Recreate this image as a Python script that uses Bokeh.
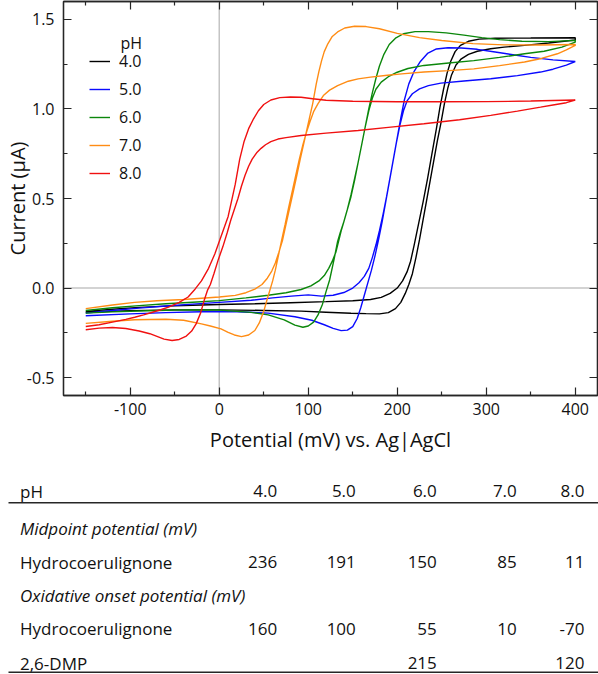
from bokeh.plotting import figure
from bokeh.models import (Range1d, LinearAxis, Span, Label, FixedTicker,
                          PrintfTickFormatter, CustomJSTickFormatter)
from bokeh.layouts import column
from bokeh.embed import file_html
from bokeh.resources import INLINE
from bokeh.core.properties import value

# ---------------- data ----------------
ph_levels = ["4.0", "5.0", "6.0", "7.0", "8.0"]
line_colors = ["#000000", "#0a0aff", "#0b870b", "#ff8c14", "#f01010"]

# each cyclic voltammogram: forward sweep (-150 -> 400 mV) then reverse (400 -> -150 mV)
ph4_potential = [-150, -120, -90, -60, -30, 0, 40, 80, 120, 150, 170, 182, 192, 200, 206, 211, 215, 219, 224, 229,
                 234, 239, 244, 248, 252, 256, 260, 265, 271, 280, 292, 310, 350, 400,
                 400, 370, 343, 320, 305, 290, 280, 272, 266, 261, 257, 253, 249, 245, 241, 237, 233, 229, 225, 221,
                 217, 213, 209, 204, 198, 190, 180, 165, 148, 120, 92, 50, 0, -50, -100, -150]
ph4_current = [-0.130, -0.118, -0.108, -0.101, -0.096, -0.092, -0.088, -0.082, -0.076, -0.071, -0.064, -0.052, -0.030,
               0.000, 0.040, 0.090, 0.150, 0.240, 0.360, 0.480, 0.610, 0.750, 0.890, 1.010, 1.110, 1.200, 1.265,
               1.320, 1.355, 1.378, 1.390, 1.395, 1.396, 1.398,
               1.385, 1.368, 1.355, 1.345, 1.336, 1.322, 1.305, 1.280, 1.245, 1.190, 1.120, 1.030, 0.920, 0.820,
               0.710, 0.600, 0.490, 0.380, 0.270, 0.170, 0.080, 0.020, -0.030, -0.080, -0.115, -0.137, -0.144,
               -0.143, -0.141, -0.135, -0.129, -0.125, -0.122, -0.122, -0.126, -0.135]

ph5_potential = [-150, -120, -90, -60, -30, 0, 36, 60, 81, 100, 115, 128, 140, 150, 157, 163, 168, 172, 176, 180,
                 184, 188, 192, 196, 200, 204, 208, 213, 219, 226, 234, 244, 257, 272, 290, 310, 330, 350, 375, 400,
                 400, 390, 375, 361, 335, 305, 275, 249, 235, 225, 217, 211, 207, 203, 199, 195, 191, 187, 183, 179,
                 175, 171, 167, 163, 159, 155, 150, 144, 137, 128, 118, 104, 85, 55, 20, -20, -60, -100, -150]
ph5_current = [-0.140, -0.125, -0.112, -0.100, -0.090, -0.080, -0.068, -0.055, -0.045, -0.038, -0.045, -0.040,
               -0.025, 0.000, 0.030, 0.065, 0.110, 0.170, 0.240, 0.320, 0.410, 0.510, 0.620, 0.730, 0.840, 0.950,
               1.050, 1.140, 1.210, 1.265, 1.310, 1.335, 1.342, 1.340, 1.333, 1.318, 1.303, 1.288, 1.274, 1.265,
               1.265, 1.245, 1.222, 1.206, 1.186, 1.169, 1.156, 1.144, 1.130, 1.112, 1.085, 1.045, 0.990, 0.910,
               0.810, 0.700, 0.590, 0.480, 0.370, 0.270, 0.180, 0.100, 0.030, -0.040, -0.110, -0.170, -0.215,
               -0.235, -0.238, -0.225, -0.205, -0.180, -0.160, -0.140, -0.132, -0.132, -0.137, -0.144, -0.155]

ph6_potential = [-150, -120, -90, -60, -30, 0, 30, 55, 75, 92, 103, 112, 118, 123, 127, 131, 134, 137, 140, 144,
                 148, 152, 156, 160, 164, 168, 172, 176, 180, 185, 191, 198, 207, 220, 235, 255, 275, 295, 315, 340,
                 370, 400,
                 400, 385, 365, 343, 315, 286, 255, 230, 212, 200, 190, 182, 176, 172, 168, 164, 160, 156, 152, 148,
                 144, 140, 136, 133, 129, 124, 120, 116, 111, 106, 100, 94, 85, 73, 55, 36, 0, -40, -80, -120, -150]
ph6_current = [-0.125, -0.110, -0.098, -0.088, -0.079, -0.070, -0.055, -0.040, -0.026, -0.008, 0.012, 0.040, 0.070,
               0.110, 0.150, 0.200, 0.260, 0.320, 0.370, 0.440, 0.510, 0.600, 0.700, 0.800, 0.900, 1.000, 1.090,
               1.170, 1.240, 1.305, 1.360, 1.395, 1.420, 1.432, 1.432, 1.425, 1.412, 1.398, 1.387, 1.378, 1.376,
               1.383,
               1.373, 1.345, 1.322, 1.308, 1.288, 1.270, 1.255, 1.243, 1.226, 1.205, 1.180, 1.150, 1.110, 1.060,
               0.990, 0.900, 0.800, 0.700, 0.610, 0.520, 0.440, 0.370, 0.310, 0.260, 0.160, 0.045, -0.020, -0.090,
               -0.150, -0.190, -0.212, -0.219, -0.207, -0.178, -0.150, -0.136, -0.123, -0.122, -0.127, -0.133,
               -0.140]

ph7_potential = [-150, -120, -95, -70, -40, -20, 0, 18, 30, 40, 48, 54, 59, 63, 67, 71, 75, 79, 83, 87, 91, 96,
                 100, 105, 109, 112, 115, 118, 122, 127, 133, 141, 152, 165, 180, 200, 225, 250, 285, 320, 360, 400,
                 400, 390, 380, 362, 343, 315, 286, 258, 230, 205, 189, 170, 156, 145, 133, 124, 117, 111, 106, 102,
                 98, 94, 90, 86, 82, 78, 74, 70, 66, 63, 60, 57, 54, 50, 45, 40, 33, 25, 17, 10, 2, -10, -20, -40,
                 -60, -95, -120, -150]
ph7_current = [-0.115, -0.095, -0.080, -0.071, -0.064, -0.057, -0.050, -0.041, -0.026, -0.006, 0.020, 0.055, 0.095,
               0.140, 0.200, 0.265, 0.355, 0.445, 0.535, 0.625, 0.720, 0.830, 0.920, 1.030, 1.140, 1.210, 1.270,
               1.320, 1.364, 1.405, 1.430, 1.452, 1.462, 1.460, 1.448, 1.422, 1.398, 1.382, 1.365, 1.358, 1.357,
               1.360,
               1.355, 1.330, 1.308, 1.282, 1.262, 1.242, 1.224, 1.214, 1.206, 1.196, 1.188, 1.178, 1.168, 1.155,
               1.130, 1.105, 1.075, 1.030, 0.985, 0.930, 0.870, 0.800, 0.720, 0.630, 0.540, 0.450, 0.355, 0.265,
               0.170, 0.100, 0.040, -0.010, -0.060, -0.130, -0.195, -0.237, -0.262, -0.271, -0.262, -0.248, -0.228,
               -0.212, -0.200, -0.180, -0.174, -0.177, -0.185, -0.197]

ph8_potential = [-150, -135, -120, -105, -95, -85, -75, -65, -57, -45, -35, -27, -20, -12, -5, 0, 5, 10, 14, 18,
                 23, 28, 33, 38, 44, 50, 58, 68, 80, 92, 105, 120, 150, 200, 250, 300, 350, 400,
                 400, 390, 375, 361, 335, 305, 270, 230, 190, 156, 120, 92, 75, 66, 58, 52, 47, 42, 37, 33, 29, 25,
                 21, 17, 13, 9, 4, -1, -6, -10, -13, -17, -21, -26, -31, -37, -45, -53, -62, -70, -78, -90, -105,
                 -120, -135, -150]
ph8_current = [-0.215, -0.205, -0.190, -0.175, -0.163, -0.150, -0.135, -0.120, -0.107, -0.080, -0.050, -0.005,
               0.040, 0.110, 0.190, 0.260, 0.330, 0.400, 0.490, 0.580, 0.720, 0.820, 0.890, 0.940, 0.990, 1.025,
               1.050, 1.063, 1.067, 1.065, 1.057, 1.049, 1.043, 1.040, 1.040, 1.041, 1.044, 1.050,
               1.050, 1.035, 1.022, 1.010, 0.988, 0.964, 0.940, 0.917, 0.897, 0.880, 0.865, 0.852, 0.840, 0.832,
               0.818, 0.800, 0.780, 0.755, 0.720, 0.680, 0.630, 0.570, 0.500, 0.440, 0.380, 0.310, 0.230, 0.160,
               0.080, 0.020, -0.010, -0.070, -0.140, -0.200, -0.240, -0.268, -0.287, -0.293, -0.285, -0.270,
               -0.255, -0.240, -0.226, -0.220, -0.224, -0.233]

x_major = [-100, 0, 100, 200, 300, 400]
x_minor = [-150, -50, 50, 150, 250, 350]
y_major = [-0.5, 0.0, 0.5, 1.0, 1.5]
y_minor = [-0.25, 0.25, 0.75, 1.25]

# table values
table_ph = ["4.0", "5.0", "6.0", "7.0", "8.0"]
midpoint_hydrocoerulignone = ["236", "191", "150", "85", "11"]
onset_hydrocoerulignone = ["160", "100", "55", "10", "-70"]
onset_dmp = ["", "", "215", "", "120"]
row_labels = ["pH", "Midpoint potential (mV)", "Hydrocoerulignone",
              "Oxidative onset potential (mV)", "Hydrocoerulignone", "2,6-DMP"]
row_italic = [False, True, False, True, False, False]
row_values = [table_ph, None, midpoint_hydrocoerulignone, None, onset_hydrocoerulignone, onset_dmp]

# ---------------- layout ----------------
FONT = "Open Sans"
TXT = "#111111"
AX = "#262626"
W, H1, H2 = 598, 463, 211
FL, FR, FT, FB = 62, 1, 1, 68
x_lo, x_hi = -175, 425
y_lo, y_hi = -0.6, 1.6
frame_w = W - FL - FR
frame_h = H1 - FT - FB


def xd(px):
    return x_lo + (px - FL) / frame_w * (x_hi - x_lo)


def yd(py):
    return y_hi - (py - FT) / frame_h * (y_hi - y_lo)


def no_align(fig):
    try:
        fig.frame_align = False
    except Exception:
        pass


p = figure(width=W, height=H1, x_range=Range1d(x_lo, x_hi), y_range=Range1d(y_lo, y_hi),
           output_backend="svg", toolbar_location=None,
           min_border_left=FL, min_border_right=FR, min_border_top=FT, min_border_bottom=FB)
no_align(p)
p.xgrid.visible = False
p.ygrid.visible = False
p.outline_line_color = AX
p.outline_line_width = 1.3
p.background_fill_color = "white"

xt = FixedTicker(ticks=x_major, minor_ticks=x_minor)
yt = FixedTicker(ticks=y_major, minor_ticks=y_minor)


def style_axis(ax, labels=True):
    ax.axis_line_color = AX
    ax.axis_line_width = 1.3
    ax.major_tick_line_color = AX
    ax.minor_tick_line_color = AX
    ax.major_tick_line_width = 1.2
    ax.minor_tick_line_width = 1.2
    ax.major_tick_in = 8
    ax.major_tick_out = 0
    ax.minor_tick_in = 4
    ax.minor_tick_out = 0
    ax.major_label_text_font = FONT
    ax.major_label_text_color = TXT
    ax.major_label_text_font_size = "16px" if labels else "0px"


p.xaxis.ticker = xt
p.yaxis.ticker = yt
p.xaxis.formatter = PrintfTickFormatter(format="%d")
p.yaxis.formatter = PrintfTickFormatter(format="%.1f")
for ax in p.xaxis + p.yaxis:
    style_axis(ax)
    ax.axis_label_text_font = FONT
    ax.axis_label_text_font_size = "20px"
    ax.axis_label_text_font_style = "normal"
    ax.axis_label_text_color = TXT
p.xaxis.major_label_standoff = 7
p.yaxis.major_label_standoff = 9
p.xaxis.axis_label = "Potential (mV) vs. Ag|AgCl"
p.xaxis.axis_label_standoff = 8
p.yaxis.axis_label = "Current (µA)"
p.yaxis.axis_label_text_line_height = 1.0
p.yaxis.axis_label_standoff = -7

blank = CustomJSTickFormatter(code="return ''")
top_ax = LinearAxis(ticker=xt, formatter=blank, major_label_standoff=0)
style_axis(top_ax, labels=False)
p.add_layout(top_ax, "above")
right_ax = LinearAxis(ticker=yt, formatter=blank, major_label_standoff=0)
style_axis(right_ax, labels=False)
p.add_layout(right_ax, "right")

p.add_layout(Span(location=0, dimension="height", line_color="#c4c4c4", line_width=1.5, level="underlay"))
p.add_layout(Span(location=0, dimension="width", line_color="#c4c4c4", line_width=1.5, level="underlay"))

curves = [(ph4_potential, ph4_current), (ph5_potential, ph5_current), (ph6_potential, ph6_current),
          (ph7_potential, ph7_current), (ph8_potential, ph8_current)]
for (e, i), c, lab in zip(curves, line_colors, ph_levels):
    p.line(e, i, line_color=c, line_width=1.4, legend_label=lab)

leg = p.legend[0]
leg.border_line_color = None
leg.background_fill_alpha = 0
leg.padding = 0
leg.margin = 0
leg.spacing = 4
leg.glyph_width = 21
leg.glyph_height = 24
leg.label_height = 24
leg.label_standoff = 9
leg.label_text_font = FONT
leg.label_text_font_size = "16px"
leg.label_text_color = TXT
leg_h = 5 * 24 + 4 * 4
leg.location = (26, frame_h - 48 - leg_h)

p.add_layout(Label(x=xd(119), y=yd(42.5), text="pH", text_font=FONT, text_font_size="16px",
                   text_color=TXT, text_baseline="alphabetic", text_align="left"))

# ---------------- table ----------------
t = figure(width=W, height=H2, x_range=Range1d(0, W), y_range=Range1d(H2, 0),
           output_backend="svg", toolbar_location=None, min_border=0,
           min_border_left=0, min_border_right=0, min_border_top=0, min_border_bottom=0,
           x_axis_location=None, y_axis_location=None)
no_align(t)
t.outline_line_color = None
t.xgrid.visible = False
t.ygrid.visible = False

row_base = [27.7, 65.3, 98.7, 132.0, 165.3, 199.5]
col_right = [276.7, 355.3, 436.3, 516.3, 584.0]
label_x = 19.5
rule_y = [39.3, 208.7]
rule_x = [8, W]

lx, ly, lt, it_x, it_y, it_t = [], [], [], [], [], []
vx, vy, vt = [], [], []
for r, (lab, ital, vals) in enumerate(zip(row_labels, row_italic, row_values)):
    if ital:
        it_x.append(label_x); it_y.append(row_base[r]); it_t.append(lab)
    else:
        lx.append(label_x); ly.append(row_base[r]); lt.append(lab)
    if vals:
        for cidx, v in enumerate(vals):
            if v:
                vx.append(col_right[cidx]); vy.append(row_base[r]); vt.append(v)

common = dict(text_font=value(FONT), text_font_size="17px", text_color=TXT, text_baseline="alphabetic")
t.text(x=lx, y=ly, text=lt, text_align="left", **common)
t.text(x=it_x, y=it_y, text=it_t, text_align="left", text_font_style="italic", **common)
t.text(x=vx, y=vy, text=vt, text_align="right", **common)
for ry in rule_y:
    t.segment(x0=[rule_x[0]], y0=[ry], x1=[rule_x[1]], y1=[ry], line_color=AX, line_width=1.6)

layout = column(p, t, spacing=0)
open("out.html", "w").write(file_html(layout, INLINE))
